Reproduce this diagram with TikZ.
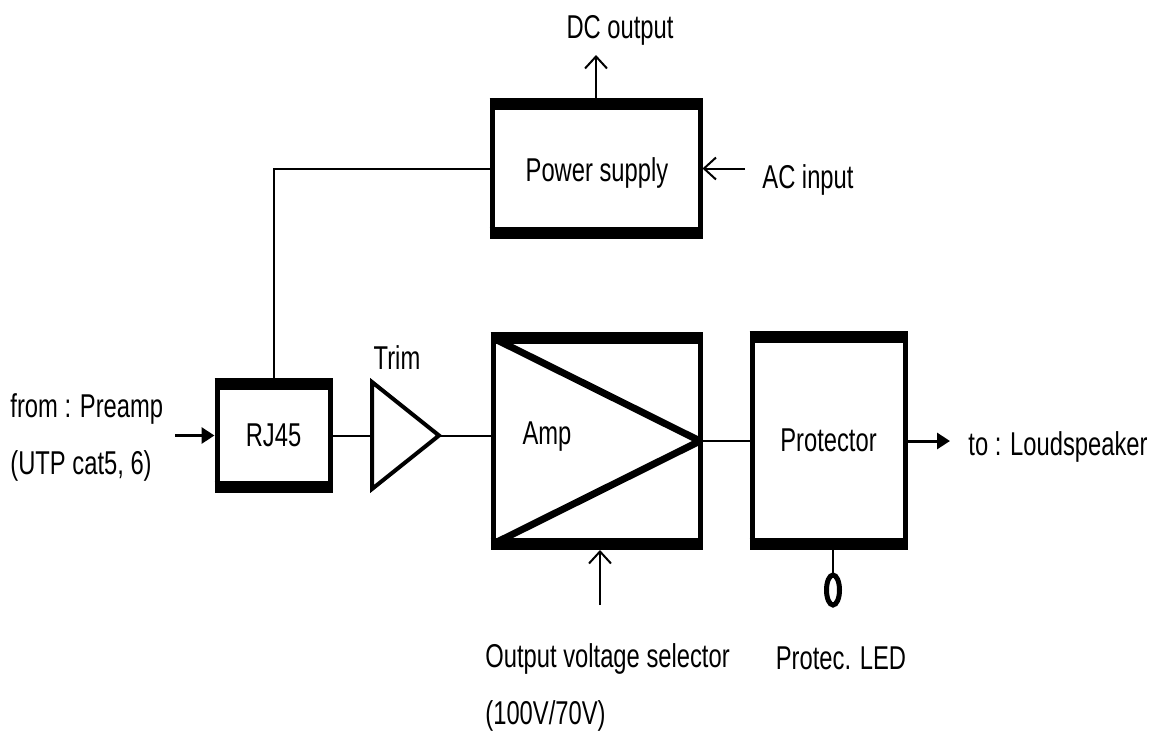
\documentclass[tikz,border=0pt]{standalone}
\usepackage{fontspec}
\setmainfont{Liberation Sans}[FakeStretch=0.72]
\usetikzlibrary{arrows.meta,shapes.geometric}

\tikzset{
  blk/.style={draw, line width=2.5pt, outer sep=0pt, inner sep=0pt},
  band/.style={line width=6pt},
  wire/.style={line width=1pt},
  openarr/.style={wire, -{Straight Barb[length=6pt,width=11pt]}},
  fillarr/.style={line width=1.5pt, -{Triangle[length=6.5pt,width=8pt]}},
  lab/.style={inner xsep=0pt},
}

\begin{document}
\begin{tikzpicture}[font=\fontsize{16.5}{28.5}\selectfont, x=0.5pt, y=-0.5pt]
  \useasboundingbox (0,0) rectangle (1157,734);

  % blocks
  \node[blk, minimum width=104pt, minimum height=64.5pt] (psu) at (596,168.5) {};
  \node[blk, minimum width=56.5pt, minimum height=51.5pt] (rj) at (273.5,435.5) {RJ45};
  \node[blk, minimum width=103.5pt, minimum height=103pt] (amp) at (596.5,441) {};
  \node[blk, minimum width=76.5pt, minimum height=103.5pt] (prot) at (828.5,440.5) {Protector};
  \foreach \n in {psu,rj,amp,prot}
    \draw[band] ([xshift=-1.25pt]\n.north west) -- ([xshift=1.25pt]\n.north east)
                ([xshift=-1.25pt]\n.south west) -- ([xshift=1.25pt]\n.south east);
  \draw[line width=3.5pt, line join=round] (amp.north west) -- (amp.east) -- (amp.south west);
  \node (psulab) at (597,173) {Power supply};
  \node (amplab) at (547,437) {Amp};

  % trim
  \coordinate (trimin) at (372,435.5);
  \coordinate (trimout) at (439,435.5);
  \draw[line width=2pt, line join=miter] (372,382) -- (trimout) -- (372,489) -- cycle;
  \node (trimlab) at (397,358) {Trim};

  % LED
  \node[draw, ellipse, line width=2.5pt, minimum width=6.5pt, minimum height=15pt, inner sep=0pt] (led) at (833,590) {};

  % free ends
  \coordinate (dcout) at (596,55);
  \coordinate (acin) at (745,168.5);
  \coordinate (prein) at (175,435.5);
  \coordinate (spkout) at (950,441);
  \coordinate (selin) at (600,605);

  % connectors
  \draw[openarr] (psu.north) -- (dcout);
  \draw[openarr] (acin) -- ([xshift=1.25pt]psu.east);
  \draw[wire] (psu.west) -| (rj.north);
  \draw[fillarr] (prein) -- ([xshift=-1.25pt]rj.west);
  \draw[wire] (rj.east) -- (trimin);
  \draw[wire] (trimout) -- (trimout -| amp.west);
  \draw[wire] (amp.east) -- (amp.east -| prot.west);
  \draw[fillarr] (prot.east |- spkout) -- (spkout);
  \draw[openarr] (selin) -- ([yshift=-3pt]amp.south -| selin);
  \draw[wire] (led) -- (led |- prot.south);

  % labels
  \node (dclab) at (620,30) {DC output};
  \node[lab, anchor=west] (aclab) at (762,180) {AC input};
  \node[lab, anchor=west, align=left] (prelab) at (10,437) {from : Preamp\\(UTP cat5, 6)};
  \node[lab, anchor=west] (spklab) at (968,447) {to : Loudspeaker};
  \node[lab, anchor=west, align=left] (sellab) at (485,687) {Output voltage selector\\(100V/70V)};
  \node (ledlab) at (841,658) {Protec. LED};
\end{tikzpicture}
\end{document}
